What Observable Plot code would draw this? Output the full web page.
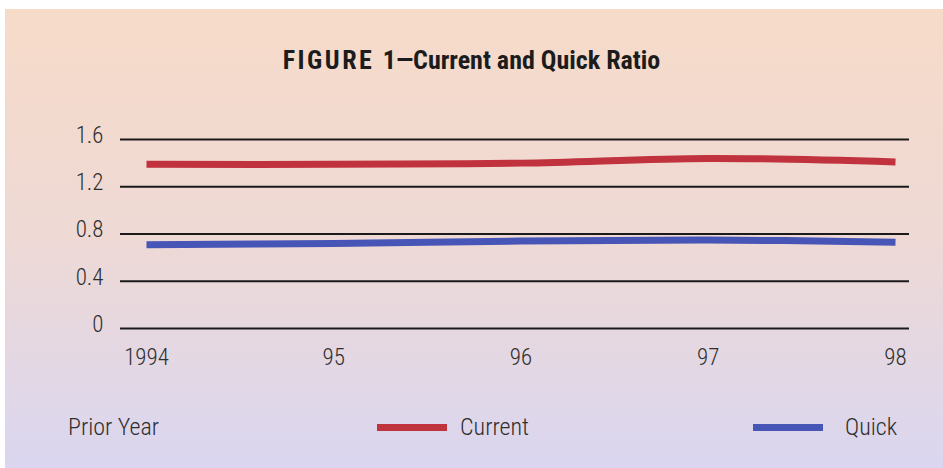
<!DOCTYPE html>
<html><head><meta charset="utf-8">
<script src="https://cdn.jsdelivr.net/npm/d3@7"></script>
<script src="https://cdn.jsdelivr.net/npm/@observablehq/plot@0.6"></script>
<style>
html,body{margin:0;padding:0;background:#fff;}
#wrap{position:relative;width:943px;height:468px;overflow:hidden;background:#fff;}
#panel{position:absolute;left:5px;top:9px;right:0;bottom:0;background:linear-gradient(to bottom,#f7dbc9 0%,#eed9d5 50%,#dad6f0 100%);}
#title{position:absolute;left:0;width:943px;top:45px;text-align:center;font-family:"Liberation Sans Narrow","Roboto Condensed","Arial Narrow",sans-serif;font-weight:bold;font-size:26px;color:#1c1c1c;white-space:nowrap;}
#title .fig{letter-spacing:2.5px;}
#chart{position:absolute;left:0;top:0;}
.leg{position:absolute;font-family:"Liberation Sans Narrow","Roboto Condensed","Arial Narrow",sans-serif;font-weight:300;font-size:24px;color:#2e2e2e;line-height:1;white-space:nowrap;}
.sw{position:absolute;height:7px;}
</style>
</head><body>
<div id="wrap">
  <div id="panel"></div>
  <div id="title"><span class="fig">FIGURE </span>1—Current and Quick Ratio</div>
  <div id="chart"></div>
  <div class="leg" style="left:68px;top:415px;">Prior Year</div>
  <div class="sw" style="left:377px;top:424px;width:70px;background:#c0323d;"></div>
  <div class="leg" style="left:460px;top:415px;">Current</div>
  <div class="sw" style="left:753px;top:424px;width:70px;background:#4755b6;"></div>
  <div class="leg" style="left:845px;top:415px;">Quick</div>
</div>
<script>
const years = [1994, 1995, 1996, 1997, 1998];
const yearLabels = ["1994", "95", "96", "97", "98"];
const current = [1.39, 1.39, 1.40, 1.44, 1.41];
const quick = [0.71, 0.72, 0.74, 0.75, 0.73];
const yTicks = [0, 0.4, 0.8, 1.2, 1.6];
const yTickLabels = ["0", "0.4", "0.8", "1.2", "1.6"];

const rows = [];
years.forEach((y, i) => {
  rows.push({year: y, value: current[i], series: "Current"});
  rows.push({year: y, value: quick[i], series: "Quick"});
});

const font = '"Liberation Sans Narrow","Roboto Condensed","Arial Narrow",sans-serif';
const chart = Plot.plot({
  width: 943,
  height: 468,
  marginTop: 139,
  marginBottom: 140,
  marginLeft: 146,
  marginRight: 48,
  style: {background: "transparent", fontFamily: font, fontSize: "23px", fontWeight: 300, color: "#2e2e2e", overflow: "visible"},
  x: {domain: [1994, 1998]},
  y: {domain: [0, 1.6]},
  color: {domain: ["Current", "Quick"], range: ["#c0323d", "#4755b6"]},
  marks: [
    Plot.ruleY(yTicks, {stroke: "#1a1a1a", strokeWidth: 2, insetLeft: -26, insetRight: -14}),
    Plot.line(rows, {x: "year", y: "value", z: "series", stroke: "series", strokeWidth: 7, curve: "catmull-rom", strokeLinecap: "butt"}),
    Plot.axisX({ticks: years, tickFormat: (d) => yearLabels[years.indexOf(d)], tickSize: 0, tickPadding: 20, label: null, fontSize: 23}),
    Plot.axisY({ticks: yTicks, tickFormat: (d) => yTickLabels[yTicks.indexOf(d)], tickSize: 0, tickPadding: 43, label: null, dy: -4, fontSize: 23})
  ]
});
document.getElementById("chart").appendChild(chart);
</script>
</body></html>
